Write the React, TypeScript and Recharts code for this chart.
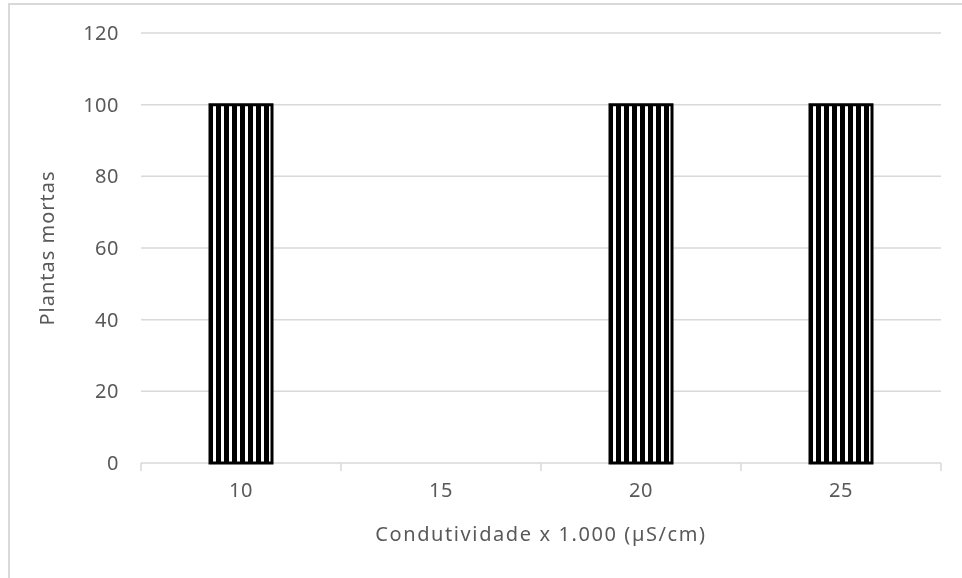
import { BarChart, Bar, XAxis, YAxis, CartesianGrid } from 'recharts';

const conductivity = ['10', '15', '20', '25'];
const deadPlants = [100, 0, 100, 100];
const yTicks = [0, 20, 40, 60, 80, 100, 120];

const data = conductivity.map((name, i) => ({ name, value: deadPlants[i] }));

const FONT = '"Noto Sans", "Open Sans", sans-serif';
const TEXT = '#595959';
const GRID = '#d9d9d9';
const SIZE = 20;

const CategoryTick = (props: any) => {
  const { x, y, payload, index } = props;
  const half = payload.offset || 0;
  const axisY = y - 20;
  return (
    <g>
      {index === 0 && <line x1={x - half} x2={x - half} y1={axisY} y2={axisY + 8} stroke={GRID} strokeWidth={1.5} />}
      <line x1={x + half} x2={x + half} y1={axisY} y2={axisY + 8} stroke={GRID} strokeWidth={1.5} />
      <text x={x} y={y} dy="0.71em" textAnchor="middle" fill={TEXT} fontSize={SIZE} fontFamily={FONT} letterSpacing={0.5}>
        {payload.value}
      </text>
    </g>
  );
};

export default function App() {
  return (
    <div>
      <div
        style={{
          position: 'fixed',
          left: 8,
          top: 3,
          right: 0,
          bottom: 0,
          borderLeft: `2px solid ${GRID}`,
          borderTop: `2px solid ${GRID}`,
          pointerEvents: 'none',
        }}
      />
      <BarChart
        width={954}
        height={570}
        data={data}
        margin={{ top: 25, right: 21, left: 0, bottom: 35 }}
        barCategoryGap={0}
      >
        <defs>
          <pattern id="stripes" patternUnits="userSpaceOnUse" width={8} height={10}>
            <rect x={0} y={0} width={8} height={10} fill="#ffffff" />
            <rect x={0} y={0} width={5} height={10} fill="#000000" />
          </pattern>
        </defs>
        <CartesianGrid vertical={false} stroke={GRID} strokeWidth={1.5} />
        <XAxis
          dataKey="name"
          height={80}
          axisLine={false}
          tickLine={false}
          tickSize={0}
          tickMargin={20}
          tick={<CategoryTick />}
          interval={0}
          label={{
            value: 'Condutividade x 1.000 (µS/cm)',
            position: 'insideBottom',
            offset: 2,
            fill: TEXT,
            fontSize: SIZE,
            fontFamily: FONT,
            letterSpacing: 1.6,
          }}
        />
        <YAxis
          width={133}
          domain={[0, 120]}
          ticks={yTicks}
          axisLine={false}
          tickLine={false}
          tickMargin={16}
          tick={{ fill: TEXT, fontSize: SIZE, fontFamily: FONT, letterSpacing: 0.5 }}
          label={{
            value: 'Plantas mortas',
            angle: -90,
            position: 'insideLeft',
            offset: 39,
            fill: TEXT,
            fontSize: SIZE,
            fontFamily: FONT,
            letterSpacing: 1,
            style: { textAnchor: 'middle' },
          }}
        />
        <Bar
          dataKey="value"
          barSize={62}
          fill="url(#stripes)"
          stroke="#000000"
          strokeWidth={3}
          isAnimationActive={false}
        />
      </BarChart>
    </div>
  );
}
